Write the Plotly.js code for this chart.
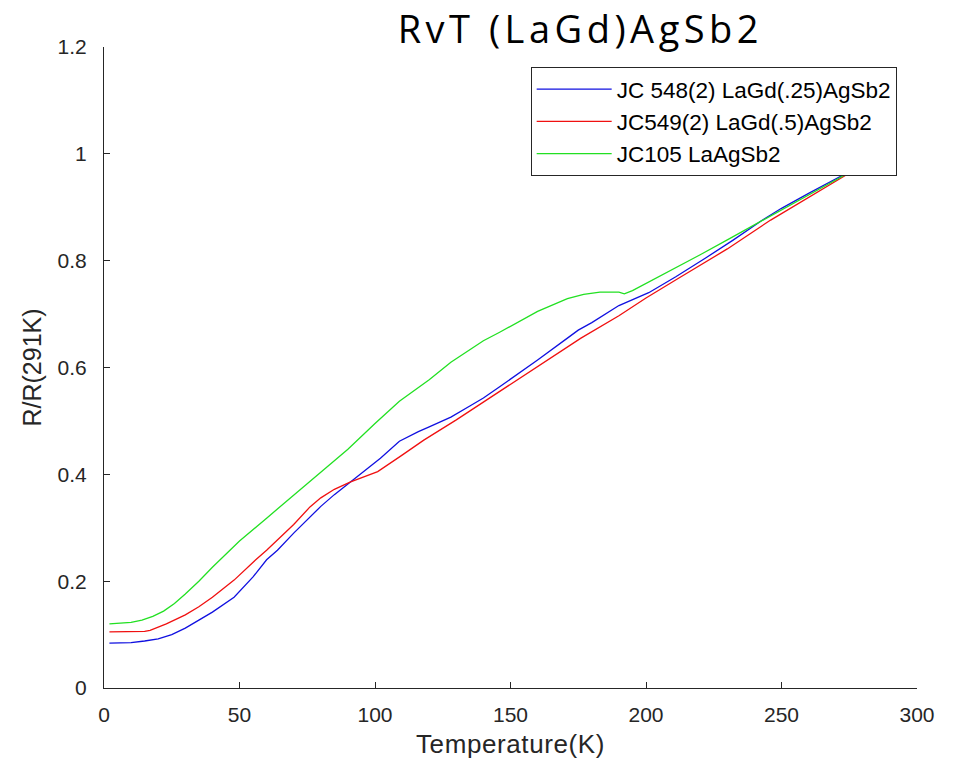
<!DOCTYPE html>
<html>
<head>
<meta charset="utf-8">
<script src="https://cdn.plot.ly/plotly-3.0.1.min.js"></script>
<style>
html,body{margin:0;padding:0;background:#fff;}
#chart{width:953px;height:771px;}
.gtitle{letter-spacing:4.5px;}
.xtitle{letter-spacing:0.6px;}
</style>
</head>
<body>
<div id="chart"></div>
<script>
// JC 548(2) LaGd(.25)AgSb2
const tempBlue = [2,5,10,15,20,25,30,35,40,48,55,60,64,70,76,80,85,91,96,102,109,112,116,120,125,128,135,140,146,150,160,171,175,180,190,201,211,222,232,243,250,260,270,280,290];
const rBlue = [0.084,0.084,0.085,0.088,0.092,0.100,0.112,0.127,0.142,0.170,0.208,0.240,0.258,0.290,0.320,0.340,0.362,0.386,0.405,0.430,0.462,0.470,0.480,0.489,0.500,0.507,0.528,0.543,0.564,0.578,0.614,0.655,0.670,0.684,0.716,0.740,0.770,0.805,0.838,0.876,0.898,0.926,0.953,0.980,1.000];
// JC549(2) LaGd(.5)AgSb2
const tempRed = [2,5,10,15,17,19,23,30,35,40,48,56,60,70,76,80,85,91,96,101,110,118,130,140,150,160,176,190,200,212,230,246,260,270,280,290];
const rRed = [0.105,0.105,0.105,0.106,0.108,0.112,0.120,0.137,0.152,0.170,0.202,0.240,0.258,0.306,0.339,0.356,0.372,0.386,0.395,0.405,0.436,0.464,0.502,0.535,0.568,0.601,0.655,0.697,0.730,0.767,0.822,0.876,0.918,0.948,0.979,1.000];
// JC105 LaAgSb2
const tempGreen = [2,5,10,14,18,22,26,30,35,40,45,50,60,70,80,90,100,109,120,128,140,146,160,171,177,183,190,192,195,201,211,220,230,240,250,260,270,280,290];
const rGreen = [0.120,0.121,0.123,0.127,0.134,0.144,0.158,0.176,0.200,0.226,0.251,0.275,0.318,0.361,0.404,0.447,0.495,0.537,0.577,0.610,0.650,0.666,0.705,0.729,0.737,0.741,0.741,0.738,0.744,0.760,0.786,0.811,0.839,0.867,0.895,0.923,0.951,0.979,1.000];

const seriesNames = ['JC 548(2) LaGd(.25)AgSb2','JC549(2) LaGd(.5)AgSb2','JC105 LaAgSb2'];
const xTicks = [0,50,100,150,200,250,300];
const yTicks = [0,0.2,0.4,0.6,0.8,1,1.2];
const yTickText = ['0','0.2','0.4','0.6','0.8','1','1.2'];

const traces = [
  {x: tempBlue, y: rBlue, name: seriesNames[0], mode: 'lines', line: {color: '#1010e0', width: 1.3}},
  {x: tempRed, y: rRed, name: seriesNames[1], mode: 'lines', line: {color: '#f01010', width: 1.3}},
  {x: tempGreen, y: rGreen, name: seriesNames[2], mode: 'lines', line: {color: '#22e022', width: 1.3}}
];

const labelFont = 'Liberation Sans, Arial, sans-serif';
const axisCommon = {
  showline: true, linecolor: '#262626', linewidth: 1,
  ticks: 'inside', ticklen: 6, tickcolor: '#262626',
  showgrid: false, zeroline: false, mirror: false,
  tickfont: {family: labelFont, size: 21, color: '#262626'}
};

const layout = {
  width: 953, height: 771,
  paper_bgcolor: '#fff', plot_bgcolor: '#fff',
  margin: {l: 104, r: 36, t: 47, b: 83},
  title: {text: 'RvT (LaGd)AgSb2', xref: 'container', x: 0.609, xanchor: 'center',
          yref: 'container', y: 1 - 30/771, yanchor: 'middle',
          font: {family: 'Open Sans, DejaVu Sans, sans-serif', size: 38, color: '#000'}},
  xaxis: Object.assign({}, axisCommon, {range: [0, 300], tickvals: xTicks, ticklabelstandoff: 8,
          title: {text: 'Temperature(K)', standoff: 9, font: {family: labelFont, size: 26, color: '#262626'}}}),
  yaxis: Object.assign({}, axisCommon, {range: [0, 1.2], tickvals: yTicks, ticktext: yTickText, ticklabelstandoff: 12,
          title: {text: 'R/R(291K)', standoff: 8, font: {family: labelFont, size: 25, color: '#262626'}}}),
  showlegend: true,
  legend: {x: 0.975, xanchor: 'right', y: (688-67)/641, yanchor: 'top',
           bgcolor: '#fff', bordercolor: '#262626', borderwidth: 1,
           font: {family: labelFont, size: 22.5, color: '#000'},
           itemwidth: 75, tracegroupgap: 0}
};

Plotly.newPlot('chart', traces, layout, {displayModeBar: false, staticPlot: true});
</script>
</body>
</html>
